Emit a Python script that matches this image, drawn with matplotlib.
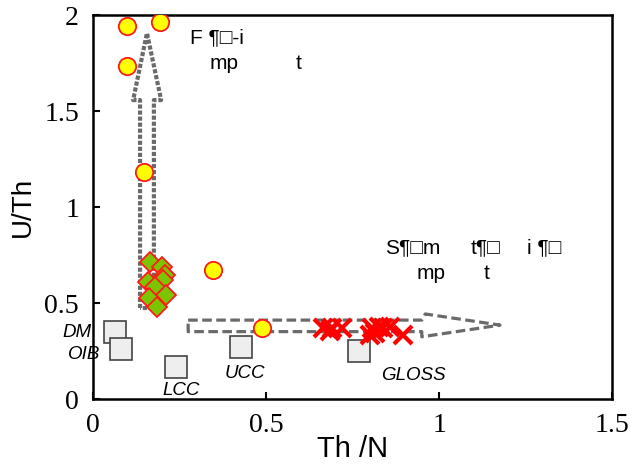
import matplotlib.pyplot as plt

# ---- data ----
circle_x = [0.098, 0.194, 0.098, 0.147, 0.347, 0.488]
circle_y = [1.943, 1.964, 1.734, 1.182, 0.672, 0.370]

diamond_x = [0.165, 0.199, 0.208, 0.160, 0.203, 0.179, 0.211, 0.163, 0.186]
diamond_y = [0.714, 0.689, 0.646, 0.611, 0.620, 0.585, 0.542, 0.524, 0.481]

cross_x = [0.666, 0.690, 0.719, 0.684, 0.806, 0.814, 0.825, 0.839, 0.858, 0.897, 0.800]
cross_y = [0.370, 0.370, 0.370, 0.352, 0.370, 0.342, 0.377, 0.368, 0.377, 0.333, 0.335]

ref_names = ["DM", "OIB", "LCC", "UCC", "GLOSS"]
ref_x = [0.064, 0.080, 0.240, 0.427, 0.770]
ref_y = [0.351, 0.259, 0.168, 0.269, 0.252]
ref_label_x = [-0.045, -0.025, 0.255, 0.44, 0.925]
ref_label_y = [0.345, 0.23, 0.045, 0.135, 0.125]

# arrow outlines (data coords)
up_arrow_x = [0.136, 0.136, 0.116, 0.156, 0.197, 0.176, 0.176, 0.136]
up_arrow_y = [0.474, 1.557, 1.557, 1.906, 1.557, 1.557, 0.474, 0.474]
right_arrow_x = [0.275, 0.950, 0.960, 1.176, 0.950, 0.950, 0.275, 0.275]
right_arrow_y = [0.411, 0.411, 0.443, 0.385, 0.324, 0.351, 0.351, 0.411]

fig = plt.figure(figsize=(6.43, 4.65), dpi=100)
ax = fig.add_axes([0.1446, 0.1419, 0.8074, 0.8258])

gray = "#6a6a6a"
ax.plot(up_arrow_x, up_arrow_y, color=gray, lw=3, ls=(0, (1, 0.45)),
        solid_capstyle="butt", zorder=1)
ax.plot(right_arrow_x, right_arrow_y, color=gray, lw=2.3, ls=(0, (3, 1.4)),
        zorder=1)

ax.plot(ref_x, ref_y, ls="none", marker="s", ms=16, mfc="#eeeeee",
        mec="#444444", mew=1.2, zorder=2)
for name, lx, ly in zip(ref_names, ref_label_x, ref_label_y):
    ax.text(lx, ly, name, fontsize=13.5, style="italic", family="Liberation Sans",
            ha="center", va="center")

ax.plot(cross_x, cross_y, ls="none", marker="x", ms=12.5, mew=3,
        color="#ff0000", zorder=3)
ax.plot(diamond_x, diamond_y, ls="none", marker="D", ms=10, mfc="#7cc400",
        mec="#ff1a1a", mew=1.3, zorder=4)
ax.plot(circle_x, circle_y, ls="none", marker="o", ms=12.5, mfc="#ffff00",
        mec="#ff1a1a", mew=1.3, zorder=5)

# garbled annotation text as it appears in the source
txt = dict(fontsize=15, family=["Liberation Sans", "DejaVu Sans"], ha="left", va="center")
ax.text(0.28, 1.88, "F \u00b6\u25a1-i", **txt)
ax.text(0.338, 1.75, "mp", **txt)
ax.text(0.585, 1.75, "t", **txt)
ax.text(0.844, 0.79, "S\u00b6\u25a1m", **txt)
ax.text(1.09, 0.79, "t\u00b6\u25a1", **txt)
ax.text(1.254, 0.79, "i \u00b6\u25a1", **txt)
ax.text(0.935, 0.656, "mp", **txt)
ax.text(1.13, 0.656, "t", **txt)

ax.set_xlim(0, 1.5)
ax.set_ylim(0, 2)
ax.set_xticks([0, 0.5, 1, 1.5])
ax.set_xticklabels(["0", "0.5", "1", "1.5"])
ax.set_yticks([0, 0.5, 1, 1.5, 2])
ax.set_yticklabels(["0", "0.5", "1", "1.5", "2"])
ax.tick_params(direction="in", length=5, width=1.5, labelsize=20, pad=10)
for lab in ax.get_xticklabels() + ax.get_yticklabels():
    lab.set_family("Liberation Serif")
for sp in ax.spines.values():
    sp.set_linewidth(1.8)

ax.set_xlabel("Th /N", fontsize=21, family="Liberation Sans", labelpad=-2)
ax.set_ylabel("U/Th", fontsize=20, family="Liberation Sans", labelpad=6)

fig.savefig("out.png", dpi=100)
